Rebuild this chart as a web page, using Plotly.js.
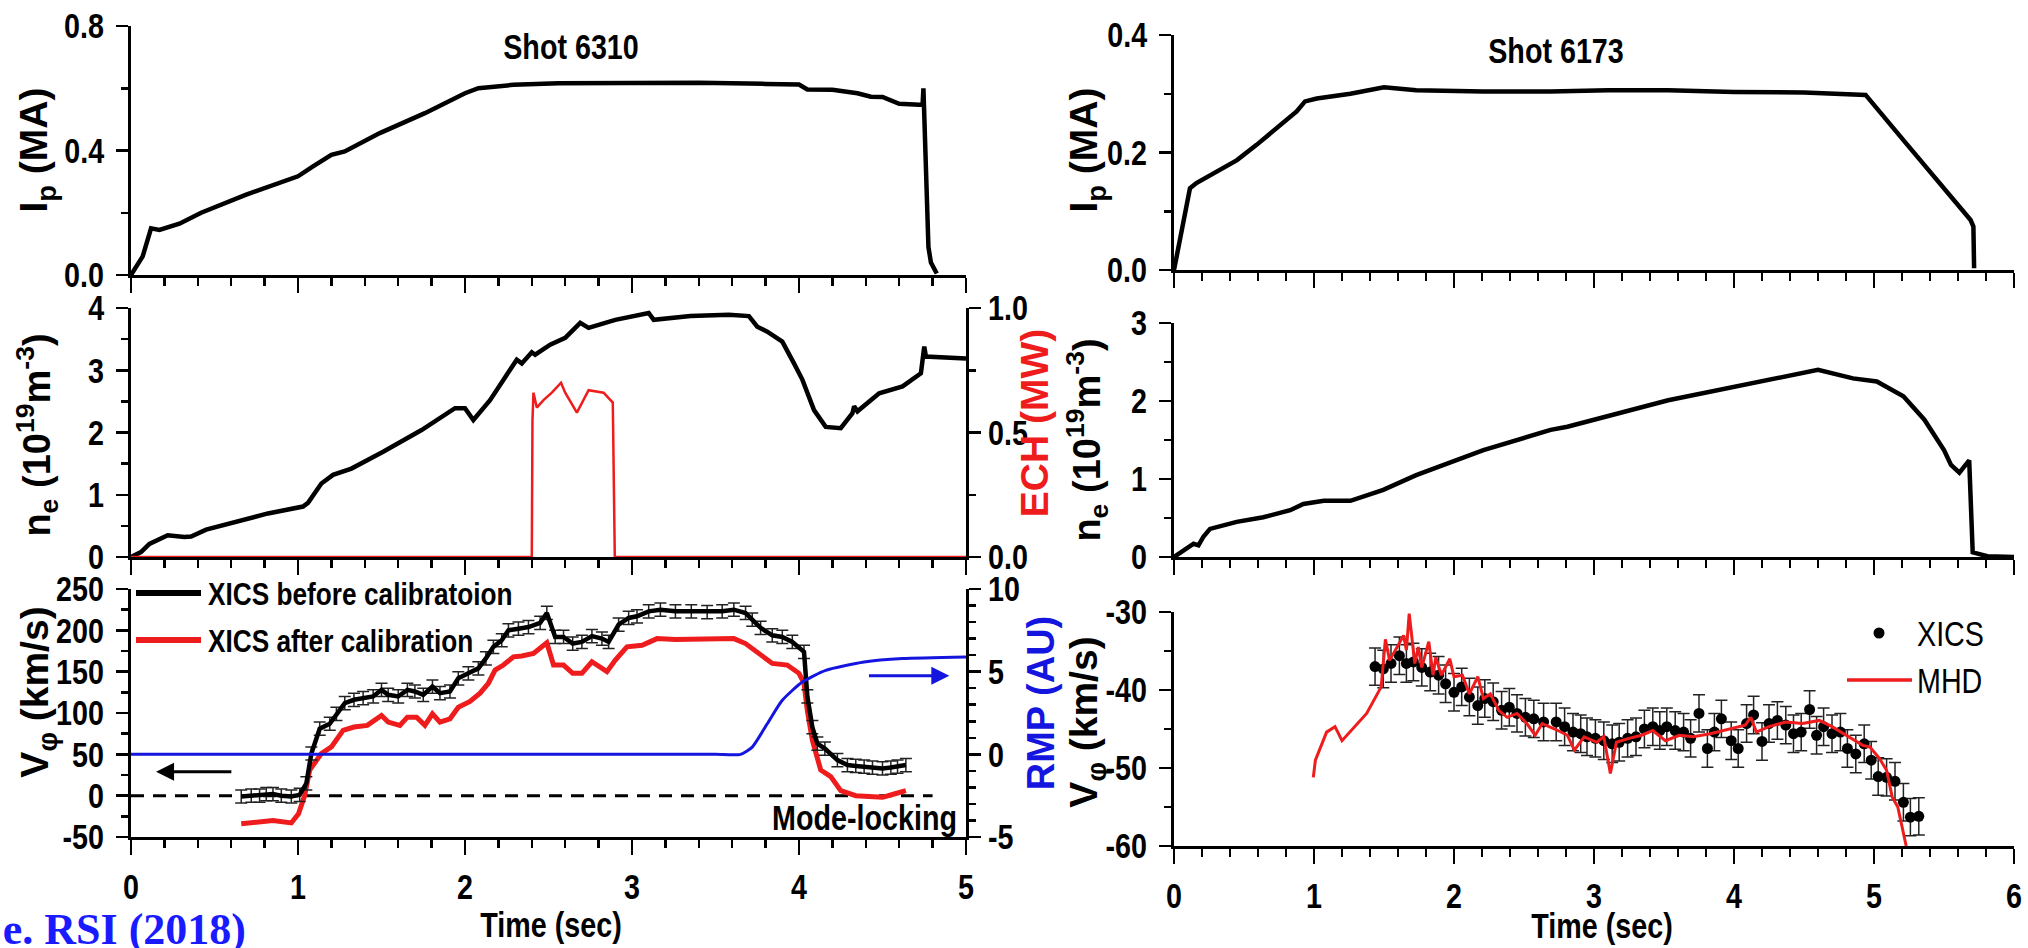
<!DOCTYPE html>
<html><head><meta charset="utf-8">
<script src="https://cdn.plot.ly/plotly-3.0.1.min.js"></script>
<style>html,body{margin:0;padding:0;background:#fff;overflow:hidden}#chart{width:2028px;height:948px}</style>
</head><body><div id="chart"></div>
<script>
// ---------------- DATA ----------------
// Shot 6310 plasma current (MA)
const ipL_t = [0,0.07,0.12,0.17,0.29,0.42,0.69,1.0,1.09,1.2,1.28,1.49,1.76,2.0,2.08,2.29,2.56,3.0,3.4,3.8,4.0,4.05,4.2,4.35,4.43,4.5,4.6,4.72,4.74,4.745,4.755,4.765,4.775,4.79,4.825];
const ipL_v = [0,0.06,0.15,0.145,0.165,0.2,0.258,0.317,0.349,0.386,0.397,0.456,0.52,0.584,0.6,0.611,0.616,0.617,0.618,0.614,0.612,0.596,0.595,0.584,0.573,0.572,0.55,0.547,0.547,0.60,0.40,0.22,0.09,0.04,0.005];
// Shot 6310 density (1e19 m^-3)
const neL_t = [0,0.06,0.11,0.18,0.22,0.32,0.36,0.45,0.59,0.82,1.03,1.06,1.14,1.21,1.32,1.51,1.74,1.94,2.0,2.05,2.15,2.31,2.34,2.40,2.42,2.51,2.60,2.69,2.74,2.90,3.10,3.13,3.35,3.58,3.70,3.75,3.81,3.90,3.97,4.02,4.09,4.16,4.25,4.32,4.33,4.35,4.48,4.62,4.73,4.75,4.76,4.84,5.0];
const neL_v = [0,0.08,0.21,0.30,0.35,0.32,0.33,0.44,0.54,0.70,0.81,0.87,1.18,1.32,1.42,1.69,2.04,2.39,2.39,2.20,2.52,3.17,3.11,3.29,3.25,3.41,3.52,3.76,3.68,3.81,3.92,3.81,3.87,3.89,3.87,3.70,3.62,3.46,3.11,2.85,2.36,2.09,2.07,2.31,2.42,2.34,2.63,2.74,2.95,3.38,3.22,3.21,3.19];
// Shot 6310 ECH power (MW)
const ech_t = [0,2.40,2.404,2.41,2.43,2.47,2.52,2.575,2.60,2.67,2.74,2.83,2.885,2.897,5.0];
const ech_v = [0,0,0.55,0.66,0.60,0.63,0.66,0.70,0.66,0.58,0.67,0.66,0.62,0,0];
// Shot 6310 rotation, XICS before calibration (km/s)
const vB_t = [0.66,0.72,0.77,0.81,0.85,0.90,0.96,1.01,1.05,1.08,1.13,1.19,1.23,1.28,1.335,1.39,1.45,1.50,1.54,1.60,1.655,1.70,1.75,1.805,1.85,1.91,1.96,2.02,2.08,2.125,2.17,2.22,2.26,2.32,2.38,2.45,2.49,2.54,2.59,2.645,2.70,2.76,2.82,2.86,2.92,2.98,3.03,3.10,3.17,3.26,3.355,3.45,3.54,3.61,3.68,3.72,3.77,3.84,3.90,3.96,4.03,4.05,4.08,4.11,4.155,4.23,4.29,4.34,4.39,4.44,4.50,4.55,4.59,4.64];
const vB_v = [-1,0,0,2,2,0,-1,1,15,51,81,87,99,112,116,118,120,128,122,120,128,126,122,132,124,126,142,148,154,166,180,188,200,202,204,209,221,192,192,184,186,193,190,186,207,215,217,223,225,223,223,222,223,225,221,213,203,194,192,186,174,120,83,63,57,43,37,36,35,34,33,34,35,37];
// Shot 6310 rotation, XICS after calibration (km/s)
const vA_t = [0.66,0.72,0.77,0.85,0.96,1.003,1.04,1.07,1.14,1.20,1.27,1.335,1.415,1.50,1.54,1.61,1.655,1.71,1.76,1.805,1.85,1.91,1.96,2.03,2.09,2.14,2.18,2.23,2.29,2.34,2.41,2.49,2.53,2.59,2.645,2.70,2.76,2.85,2.90,2.97,3.06,3.15,3.26,3.40,3.51,3.61,3.68,3.77,3.84,3.93,4.00,4.03,4.05,4.08,4.13,4.19,4.25,4.34,4.43,4.50,4.57,4.64];
const vA_v = [-34,-33,-32,-30,-33,-22,0,31,51,59,79,83,85,97,89,85,95,95,85,99,89,93,107,114,124,136,152,158,168,169,172,185,158,158,148,148,162,150,164,180,182,190,189,189,190,190,184,170,160,158,148,136,103,67,31,23,6,0,-1,-2,2,6];
// Shot 6310 RMP (AU)
const rmp_t = [0,1.5,3.0,3.5,3.65,3.72,3.81,3.90,4.02,4.16,4.39,4.62,5.0];
const rmp_v = [0,0,0,0,0,0.44,1.85,3.27,4.37,5.08,5.58,5.79,5.89];
// zero reference (dashed)
const zero_t = [0,4.8];
const zero_v = [0,0];
// Shot 6173 plasma current (MA)
const ipR_t = [0,0.114,0.16,0.305,0.45,0.59,0.78,0.876,0.936,1.02,1.26,1.50,1.73,2.21,2.69,3.1,3.53,4.0,4.5,4.94,5.21,5.45,5.65,5.69,5.71,5.715];
const ipR_v = [0,0.139,0.148,0.167,0.187,0.213,0.25,0.27,0.287,0.292,0.30,0.311,0.306,0.304,0.304,0.306,0.306,0.303,0.302,0.298,0.221,0.153,0.096,0.085,0.074,0.003];
// Shot 6173 density
const neR_t = [0,0.067,0.14,0.175,0.21,0.257,0.448,0.638,0.83,0.924,1.07,1.26,1.495,1.73,2.21,2.69,2.81,3.53,4.25,4.60,4.85,5.02,5.21,5.36,5.50,5.55,5.61,5.68,5.705,5.81,6.0];
const neR_v = [0,0.086,0.17,0.15,0.26,0.36,0.45,0.51,0.60,0.68,0.72,0.72,0.86,1.05,1.37,1.63,1.67,2.01,2.27,2.40,2.29,2.25,2.06,1.76,1.37,1.18,1.08,1.24,0.06,0.01,0];
// Shot 6173 rotation, XICS (km/s)
const xics_t = [1.436,1.495,1.55,1.61,1.66,1.71,1.77,1.83,1.89,1.94,2.00,2.055,2.11,2.17,2.22,2.28,2.34,2.395,2.45,2.51,2.57,2.64,2.73,2.79,2.85,2.905,2.95,3.01,3.07,3.13,3.18,3.24,3.30,3.36,3.42,3.47,3.52,3.58,3.64,3.69,3.75,3.81,3.86,3.91,3.98,4.03,4.09,4.14,4.20,4.25,4.31,4.37,4.425,4.48,4.54,4.59,4.64,4.70,4.76,4.81,4.87,4.93,4.98,5.03,5.09,5.15,5.21,5.26,5.32];
const xics_v = [-37.0,-37.3,-36.6,-35.6,-36.6,-36.4,-37.1,-37.7,-38.1,-39.2,-40.3,-39.6,-40.9,-42.0,-41.1,-41.5,-42.6,-42.2,-43.0,-43.5,-43.7,-44.1,-44.1,-44.7,-45.4,-45.6,-46.0,-46.2,-46.5,-46.9,-46.7,-46.2,-46.0,-45.0,-44.7,-45.2,-44.7,-45.2,-45.4,-46.2,-43.0,-47.5,-45.4,-43.7,-46.5,-47.5,-44.3,-43.2,-46.6,-44.3,-43.9,-44.5,-45.6,-45.4,-42.5,-45.8,-44.7,-45.6,-45.4,-47.5,-48.2,-46.9,-49.0,-51.1,-51.2,-51.7,-54.4,-56.3,-56.2];
// Shot 6173 rotation, MHD (km/s)
const mhd_t = [0.995,1.01,1.09,1.15,1.20,1.376,1.48,1.51,1.54,1.58,1.64,1.66,1.68,1.72,1.745,1.77,1.82,1.85,1.87,1.91,1.97,2.00,2.06,2.11,2.17,2.21,2.26,2.32,2.38,2.45,2.52,2.58,2.63,2.72,2.81,2.86,2.93,3.02,3.07,3.117,3.16,3.25,3.34,3.42,3.51,3.61,3.71,3.83,3.97,4.08,4.12,4.16,4.25,4.37,4.49,4.61,4.70,4.82,4.92,4.97,5.04,5.09,5.13,5.17,5.23];
const mhd_v = [-51.2,-49.0,-45.4,-44.7,-46.5,-43.0,-39.6,-33.5,-36.2,-34.9,-33.0,-34.9,-30.2,-36.6,-34.5,-37.1,-33.8,-38.1,-35.8,-38.1,-36.0,-38.3,-38.1,-40.5,-38.3,-41.1,-40.5,-42.6,-43.5,-43.0,-44.3,-45.8,-44.3,-45.0,-45.8,-47.7,-46.0,-46.7,-46.0,-50.7,-46.7,-46.2,-45.8,-45.2,-46.5,-45.8,-46.0,-45.6,-45.0,-44.5,-43.5,-45.4,-44.7,-44.1,-44.3,-43.9,-44.7,-46.0,-47.1,-47.3,-48.8,-50.3,-53.7,-55.0,-60.0];
// tick labels
const xTicksL = [0,1,2,3,4,5];
const xTicksR = [0,1,2,3,4,5,6];
const ipL_ticks = [0,0.4,0.8], ipL_text = ['0.0','0.4','0.8'];
const neL_ticks = [0,1,2,3,4], neL_text = ['0','1','2','3','4'];
const ech_ticks = [0,0.5,1], ech_text = ['0.0','0.5','1.0'];
const vL_ticks = [-50,0,50,100,150,200,250], vL_text = ['-50','0','50','100','150','200','250'];
const rmp_ticks = [-5,0,5,10], rmp_text = ['-5','0','5','10'];
const ipR_ticks = [0,0.2,0.4], ipR_text = ['0.0','0.2','0.4'];
const neR_ticks = [0,1,2,3], neR_text = ['0','1','2','3'];
const vR_ticks = [-60,-50,-40,-30], vR_text = ['-60','-50','-40','-30'];

// ---------------- LAYOUT HELPERS ----------------
const W = 2028, H = 948;
const px = p => p / W;
const py = p => 1 - p / H;
const FN = "'Liberation Sans',Arial,sans-serif";   // compressed to a narrow face after drawing
const FA = "'Liberation Sans',Arial,sans-serif";
const RED = '#ee1c1c', BLUE = '#1515e0';
const NARROW = 0.82;

function xax(dom, anchor, range, ticks, labels) {
  return {domain: dom, anchor: anchor, range: range, tickmode: 'array', tickvals: ticks,
    showticklabels: labels, showline: true, linecolor: 'black', linewidth: 3,
    ticks: 'outside', ticklen: 15, tickwidth: 2.5, tickcolor: 'black',
    minor: {tickmode: 'linear', tick0: 0, dtick: 0.2, ticks: 'outside', ticklen: 8, tickwidth: 2.5, tickcolor: 'black'},
    showgrid: false, zeroline: false, fixedrange: true, layer: 'below traces', ticklabelstandoff: 2,
    tickfont: {family: FN, size: 35, color: 'black', weight: 700}};
}
function yax(dom, anchor, range, vals, text, minorD, side) {
  const a = {anchor: anchor, range: range, tickmode: 'array', tickvals: vals, ticktext: text,
    showline: true, linecolor: 'black', linewidth: 3,
    ticks: 'outside', ticklen: 12, tickwidth: 2.5, tickcolor: 'black',
    minor: {tickmode: 'linear', tick0: range[0], dtick: minorD, ticks: 'outside', ticklen: 7, tickwidth: 2.5, tickcolor: 'black'},
    showgrid: false, zeroline: false, fixedrange: true, layer: 'below traces', ticklabelstandoff: side ? 0 : 5,
    tickfont: {family: FN, size: 35, color: 'black', weight: 700}};
  if (dom) a.domain = dom;
  if (side) a.side = side;
  return a;
}
const dL = [px(131), px(966)], dR = [px(1174), px(2014)];

const placed = [];   // [index, x px, y px, xanchor, narrow]
const anns = [];
function txt(text, xp, yp, opt) {
  const o = Object.assign({text: text, x: px(xp), y: py(yp), xref: 'paper', yref: 'paper', showarrow: false,
    xanchor: 'center', yanchor: 'middle'}, opt);
  placed.push([anns.length, xp, yp, o.xanchor, !!o.narrow]);
  delete o.narrow;
  anns.push(o);
}
const fNB = (s, c) => ({family: FN, size: s, weight: 700, color: c || 'black'});
const fT = (s, c) => ({family: FA, size: s, weight: 700, color: c || 'black'});

txt('Shot 6310', 571, 47, {font: fNB(35), narrow: true});
txt('Shot 6173', 1556, 51, {font: fNB(35), narrow: true});
txt('I<sub>p</sub> (MA)', 37, 150, {textangle: -90, font: fT(39)});
txt('n<sub>e</sub> (10<sup>19</sup>m<sup>-3</sup>)', 37, 435, {textangle: -90, font: fT(38)});
txt('V<sub>φ</sub> (km/s)', 38, 692, {textangle: -90, font: fT(39)});
txt('ECH (MW)', 1034, 423, {textangle: -90, font: fT(39, RED)});
txt('RMP (AU)', 1041, 703, {textangle: -90, font: fT(38, BLUE)});
txt('I<sub>p</sub> (MA)', 1087, 150, {textangle: -90, font: fT(39)});
txt('n<sub>e</sub> (10<sup>19</sup>m<sup>-3</sup>)', 1087, 440, {textangle: -90, font: fT(38)});
txt('V<sub>φ</sub> (km/s)', 1087, 722, {textangle: -90, font: fT(39)});
txt('Time (sec)', 551, 925, {font: fNB(35), narrow: true});
txt('Time (sec)', 1602, 926, {font: fNB(35), narrow: true});
txt('XICS before calibratoion', 208, 594, {xanchor: 'left', font: fNB(32), narrow: true});
txt('XICS after calibration', 208, 641, {xanchor: 'left', font: fNB(32), narrow: true});
txt('Mode-locking', 957, 818, {xanchor: 'right', font: fNB(35), narrow: true});
txt('XICS', 1917, 634, {xanchor: 'left', font: {family: FN, size: 35, color: 'black'}, narrow: true});
txt('MHD', 1917, 681, {xanchor: 'left', font: {family: FN, size: 35, color: 'black'}, narrow: true});
txt('e. RSI (2018)', 246, 929, {xanchor: 'right', font: {family: "'Liberation Serif','Times New Roman',serif", size: 44, weight: 700, color: '#1a1aff'}});
anns.push({text: '', x: 0.15, y: 29, ax: 0.61, ay: 29, xref: 'x3', yref: 'y3', axref: 'x3', ayref: 'y3', showarrow: true, arrowhead: 2, arrowsize: 1.2, arrowwidth: 3, arrowcolor: 'black'});
anns.push({text: '', x: 4.9, y: 4.75, ax: 4.41, ay: 4.75, xref: 'x3', yref: 'y8', axref: 'x3', ayref: 'y8', showarrow: true, arrowhead: 2, arrowsize: 1.2, arrowwidth: 3, arrowcolor: BLUE});

const layout = {
  width: W, height: H, margin: {l: 0, r: 0, t: 0, b: 0},
  paper_bgcolor: 'white', plot_bgcolor: 'rgba(0,0,0,0)', showlegend: false,
  xaxis: xax(dL, 'y', [0, 5], xTicksL, false),
  xaxis2: xax(dL, 'y2', [0, 5], xTicksL, false),
  xaxis3: xax(dL, 'y3', [0, 5], xTicksL, true),
  xaxis4: xax(dR, 'y4', [0, 6], xTicksR, false),
  xaxis5: xax(dR, 'y5', [0, 6], xTicksR, false),
  xaxis6: xax(dR, 'y6', [0, 6], xTicksR, true),
  yaxis: yax([py(275), py(26)], 'x', [0, 0.8], ipL_ticks, ipL_text, 0.2),
  yaxis2: yax([py(557), py(308)], 'x2', [0, 4], neL_ticks, neL_text, 0.5),
  yaxis3: yax([py(837), py(589)], 'x3', [-50, 250], vL_ticks, vL_text, 25),
  yaxis4: yax([py(270), py(35)], 'x4', [0, 0.4], ipR_ticks, ipR_text, 0.1),
  yaxis5: yax([py(557), py(323)], 'x5', [0, 3], neR_ticks, neR_text, 0.5),
  yaxis6: yax([py(846), py(612)], 'x6', [-60, -30], vR_ticks, vR_text, 5),
  yaxis7: Object.assign(yax(null, 'x2', [0, 1], ech_ticks, ech_text, 0.25, 'right'), {overlaying: 'y2'}),
  yaxis8: Object.assign(yax(null, 'x3', [-5, 10], rmp_ticks, rmp_text, 1, 'right'), {overlaying: 'y3'}),
  shapes: [
    {type: 'line', xref: 'paper', yref: 'paper', x0: px(136), x1: px(201), y0: py(593), y1: py(593), line: {color: 'black', width: 6}},
    {type: 'line', xref: 'paper', yref: 'paper', x0: px(136), x1: px(201), y0: py(640), y1: py(640), line: {color: RED, width: 6}},
    {type: 'circle', xref: 'paper', yref: 'paper', x0: px(1873.5), x1: px(1884.5), y0: py(638.5), y1: py(627.5), fillcolor: 'black', line: {width: 0}},
    {type: 'line', xref: 'paper', yref: 'paper', x0: px(1847), x1: px(1912), y0: py(680), y1: py(680), line: {color: RED, width: 3.5}}
  ],
  annotations: anns
};

const traces = [
  {x: ipL_t, y: ipL_v, xaxis: 'x', yaxis: 'y', mode: 'lines', line: {color: 'black', width: 4.5}},
  {x: ech_t, y: ech_v, xaxis: 'x2', yaxis: 'y7', mode: 'lines', line: {color: RED, width: 2.5}},
  {x: neL_t, y: neL_v, xaxis: 'x2', yaxis: 'y2', mode: 'lines', line: {color: 'black', width: 4.5}},
  {x: zero_t, y: zero_v, xaxis: 'x3', yaxis: 'y3', mode: 'lines', line: {color: 'black', width: 3, dash: '13px,9px'}},
  {x: rmp_t, y: rmp_v, xaxis: 'x3', yaxis: 'y8', mode: 'lines', line: {color: BLUE, width: 3, shape: 'spline', smoothing: 0.6}},
  {x: vA_t, y: vA_v, xaxis: 'x3', yaxis: 'y3', mode: 'lines', line: {color: RED, width: 5}},
  {x: vB_t, y: vB_v, xaxis: 'x3', yaxis: 'y3', mode: 'lines', line: {color: 'black', width: 4.5},
    error_y: {type: 'constant', value: 8, color: '#222', thickness: 1.5, width: 6}},
  {x: ipR_t, y: ipR_v, xaxis: 'x4', yaxis: 'y4', mode: 'lines', line: {color: 'black', width: 4.5}},
  {x: neR_t, y: neR_v, xaxis: 'x5', yaxis: 'y5', mode: 'lines', line: {color: 'black', width: 4.5}},
  {x: xics_t, y: xics_v, xaxis: 'x6', yaxis: 'y6', mode: 'markers', marker: {color: 'black', size: 11},
    error_y: {type: 'constant', value: 2.4, color: '#222', thickness: 1.5, width: 6}},
  {x: mhd_t, y: mhd_v, xaxis: 'x6', yaxis: 'y6', mode: 'lines', line: {color: RED, width: 3}}
];

// Squeeze a text element horizontally about a pivot (gives an Arial-Narrow-like face)
function squeeze(el, mode) {
  const b = el.getBBox();
  if (!b.width) return;
  let pv;
  if (mode === 'left' || mode === 'start') pv = b.x;
  else if (mode === 'right' || mode === 'end') pv = b.x + b.width;
  else pv = b.x + b.width / 2;
  const t = el.getAttribute('transform') || '';
  el.setAttribute('transform', t + ` translate(${pv},0) scale(${NARROW},1) translate(${-pv},0)`);
}

Plotly.newPlot('chart', traces, layout, {staticPlot: true, displayModeBar: false}).then(gd => {
  gd.querySelectorAll('g[class$="tick"] > text').forEach(el => {
    squeeze(el, el.getAttribute('text-anchor') || 'middle');
  });
  const groups = gd.querySelectorAll('g.annotation');
  const base = gd.getBoundingClientRect();
  placed.forEach(([i, xp, yp, xa, narrow]) => {
    const g = groups[i];
    if (!g) return;
    const el = g.querySelector('text.annotation-text');
    if (!el) return;
    if (narrow) squeeze(el, xa);
    // put the drawn text exactly where the reference has it
    const r = el.getBoundingClientRect();
    const cx = xa === 'left' ? r.left : xa === 'right' ? r.right : (r.left + r.right) / 2;
    const cy = (r.top + r.bottom) / 2;
    const dx = xp - (cx - base.left), dy = yp - (cy - base.top);
    const t = g.getAttribute('transform') || '';
    g.setAttribute('transform', `translate(${dx},${dy}) ` + t);
  });
});
</script></body></html>
